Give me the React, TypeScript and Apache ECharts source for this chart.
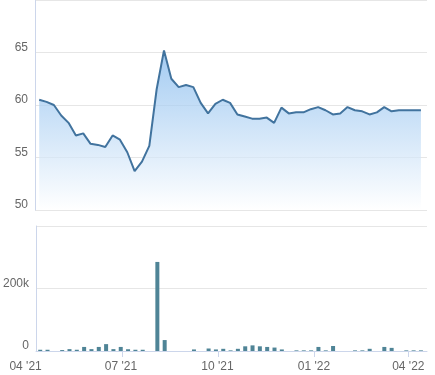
import React, { useEffect, useRef } from "react";
import * as echarts from "echarts";

// Weekly observation dates
const dates = [
  "2021-04-14", "2021-04-21", "2021-04-28", "2021-05-05", "2021-05-12", "2021-05-19", "2021-05-26",
  "2021-06-02", "2021-06-09", "2021-06-16", "2021-06-23", "2021-06-30", "2021-07-07", "2021-07-14",
  "2021-07-21", "2021-07-28", "2021-08-04", "2021-08-11", "2021-08-18", "2021-08-25", "2021-09-01",
  "2021-09-08", "2021-09-15", "2021-09-22", "2021-09-29", "2021-10-06", "2021-10-13", "2021-10-20",
  "2021-10-27", "2021-11-03", "2021-11-10", "2021-11-17", "2021-11-24", "2021-12-01", "2021-12-08",
  "2021-12-15", "2021-12-22", "2021-12-29", "2022-01-05", "2022-01-12", "2022-01-19", "2022-01-26",
  "2022-02-02", "2022-02-09", "2022-02-16", "2022-02-23", "2022-03-02", "2022-03-09", "2022-03-16",
  "2022-03-23", "2022-03-30", "2022-04-06", "2022-04-13",
];

// Closing price
const prices = [
  60.5, 60.3, 60.0, 59.0, 58.3, 57.1, 57.3, 56.3, 56.2, 56.0, 57.1, 56.7, 55.5, 53.7,
  54.6, 56.1, 61.5, 65.2, 62.5, 61.7, 61.9, 61.7, 60.2, 59.2, 60.1, 60.5, 60.2, 59.1,
  58.9, 58.7, 58.7, 58.8, 58.3, 59.75, 59.2, 59.3, 59.3, 59.6, 59.8, 59.5, 59.1, 59.2,
  59.8, 59.5, 59.4, 59.1, 59.3, 59.8, 59.4, 59.5, 59.5, 59.5, 59.5,
];

// Volume
const volumes = [
  4000, 4000, 0, 3000, 6000, 4000, 13000, 6000, 13000, 22000, 6000, 13000, 6000, 4000,
  4000, 0, 285000, 35000, 0, 0, 0, 5000, 0, 8000, 5000, 7000, 2000, 7000,
  15000, 18000, 15000, 13000, 11000, 5000, 0, 2000, 2000, 2000, 13000, 2000, 16000, 0,
  0, 2000, 2000, 7000, 0, 13000, 10000, 0, 2000, 2000, 2000,
];

// Axis tick labels (quarter starts)
const tickDates = ["2021-04-01", "2021-07-01", "2021-10-01", "2022-01-01", "2022-04-01"];

const priceTicks = { min: 50, max: 70, interval: 5 };
const volumeTicks = { min: 0, max: 400000, interval: 200000 };

const DAY = 86400000;
const toUTC = (s: string) => {
  const [y, m, d] = s.split("-").map(Number);
  return Date.UTC(y, m - 1, d);
};

export default function App() {
  const ref = useRef<HTMLDivElement>(null);

  useEffect(() => {
    if (!ref.current) return;
    const chart = echarts.init(ref.current, undefined, { renderer: "svg" });

    const pxPerDay = 1.0487;
    const plotLeft = 35;
    const plotRight = 8;
    const plotWidth = 435 - plotLeft - plotRight;
    const labelMin = toUTC(tickDates[0]);
    const axisMin = labelMin + 9 * DAY;
    const axisMax = axisMin + (plotWidth / pxPerDay) * DAY;
    const labelLeft = plotLeft - 9 * pxPerDay;

    const tickVals = tickDates.map(toUTC);
    const font = "'Liberation Sans', Arial, sans-serif";
    const labelColor = "#666666";
    const axisColor = "#ccd6eb";
    const gridColor = "#e6e6e6";

    const pad2 = (n: number) => (n < 10 ? "0" + n : "" + n);
    const fmtDate = (v: number) => {
      const d = new Date(v);
      return pad2(d.getUTCMonth() + 1) + " '" + pad2(d.getUTCFullYear() % 100);
    };

    chart.setOption({
      animation: false,
      textStyle: { fontFamily: font },
      grid: [
        { left: plotLeft, right: plotRight, top: -2, height: 212 },
        { left: plotLeft, right: plotRight, top: 226, height: 125 },
        { left: labelLeft, right: plotRight, top: 226, height: 125 },
      ],
      xAxis: [
        {
          type: "value",
          gridIndex: 0,
          min: axisMin,
          max: axisMax,
          show: false,
        },
        {
          type: "value",
          gridIndex: 1,
          min: axisMin,
          max: axisMax,
          axisLine: { show: true, lineStyle: { color: axisColor, width: 1 } },
          axisTick: {
            show: true,
            length: 6,
            customValues: tickVals,
            lineStyle: { color: axisColor },
          },
          axisLabel: { show: false },
          splitLine: { show: false },
        },
        {
          type: "value",
          gridIndex: 2,
          min: labelMin,
          max: axisMax,
          axisLine: { show: false },
          axisTick: { show: false },
          splitLine: { show: false },
          axisLabel: {
            show: true,
            customValues: tickVals,
            formatter: (v: number) => fmtDate(v),
            color: labelColor,
            fontSize: 12,
            fontFamily: font,
            margin: 9,
            showMinLabel: true,
            showMaxLabel: true,
          },
        },
      ],
      yAxis: [
        {
          type: "value",
          gridIndex: 0,
          min: priceTicks.min,
          max: priceTicks.max,
          interval: priceTicks.interval,
          axisLine: { show: true, lineStyle: { color: axisColor } },
          axisTick: { show: false },
          splitLine: { show: true, lineStyle: { color: gridColor } },
          axisLabel: {
            color: labelColor,
            fontSize: 12,
            fontFamily: font,
            margin: 7,
            verticalAlign: "bottom",
            showMaxLabel: false,
          },
        },
        {
          type: "value",
          gridIndex: 1,
          min: volumeTicks.min,
          max: volumeTicks.max,
          interval: volumeTicks.interval,
          axisLine: { show: true, lineStyle: { color: axisColor } },
          axisTick: { show: false },
          splitLine: { show: true, lineStyle: { color: gridColor } },
          axisLabel: {
            color: labelColor,
            fontSize: 12,
            fontFamily: font,
            margin: 7,
            verticalAlign: "bottom",
            showMaxLabel: false,
            formatter: (v: number) => (v === 0 ? "0" : v / 1000 + "k"),
          },
        },
        {
          type: "value",
          gridIndex: 2,
          min: 0,
          max: 1,
          show: false,
        },
      ],
      series: [
        {
          type: "line",
          xAxisIndex: 0,
          yAxisIndex: 0,
          data: dates.map((d, i) => [toUTC(d), prices[i]]),
          showSymbol: false,
          symbol: "none",
          lineStyle: { color: "#41739e", width: 2 },
          itemStyle: { color: "#41739e" },
          areaStyle: {
            color: new echarts.graphic.LinearGradient(0, 0, 0, 1, [
              { offset: 0, color: "rgba(124,181,236,1)" },
              { offset: 1, color: "rgba(255,255,255,1)" },
            ]),
          },
        },
        {
          type: "bar",
          xAxisIndex: 1,
          yAxisIndex: 1,
          data: dates.map((d, i) => [toUTC(d), volumes[i]]),
          barWidth: 4,
          itemStyle: { color: "#4f8496" },
        },
      ],
    });

    return () => chart.dispose();
  }, []);

  return (
    <div
      ref={ref}
      style={{ position: "fixed", left: 0, top: 0, width: 435, height: 375 }}
    />
  );
}
